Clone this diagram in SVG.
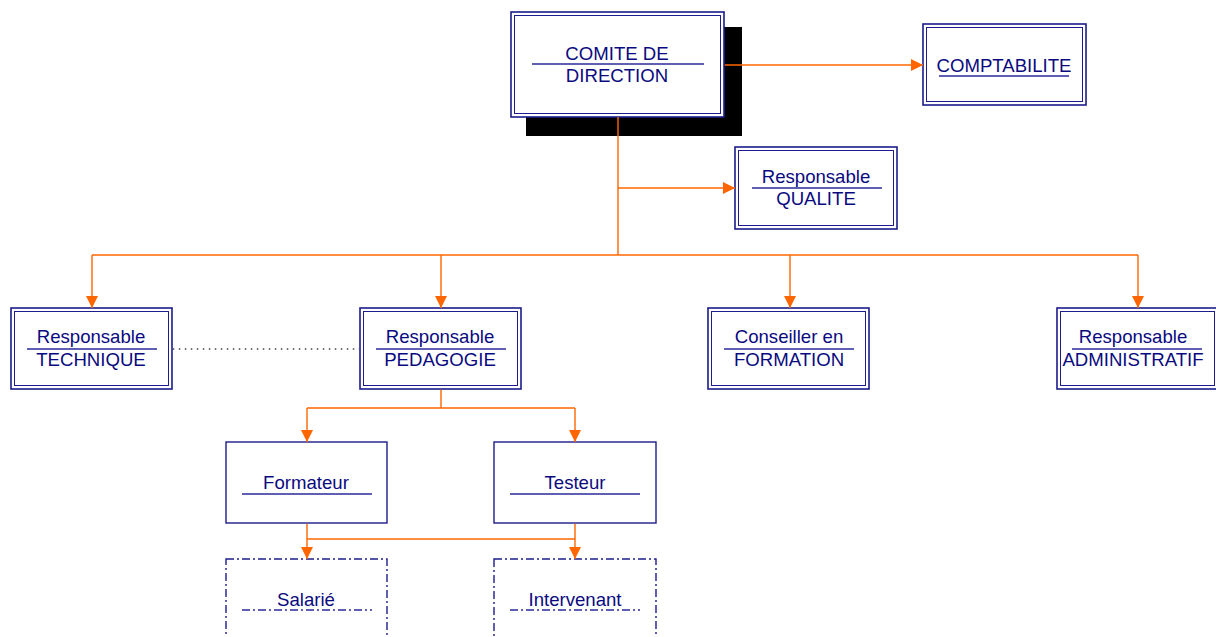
<svg xmlns="http://www.w3.org/2000/svg" width="1216" height="637" viewBox="0 0 1216 637">
<style>
.o{fill:#fff;stroke:#1c1c8c;stroke-width:1.6}
.i{fill:none;stroke:#1c1c8c;stroke-width:1}
.s{fill:#fff;stroke:#1c1c8c;stroke-width:1.4}
.d{fill:#fff;stroke:#1c1c8c;stroke-width:1.4;stroke-dasharray:8 3 2 3}
.sep{stroke:#2a2a9a;stroke-width:1.4}
.sepd{stroke:#2a2a9a;stroke-width:1.4;stroke-dasharray:8 3 2 3}
.t{font-family:"Liberation Sans",Arial,sans-serif;font-size:18.6px;fill:#0a0a80;text-anchor:middle}
.c{fill:none;stroke:#ff6600;stroke-width:1.4}
</style>
<defs>
<marker id="ah" markerUnits="userSpaceOnUse" markerWidth="12" markerHeight="12" refX="12" refY="6" orient="auto">
<path d="M0,0 L12,6 L0,12 Z" fill="#ff6600"/>
</marker>
</defs>
<g id="comite">
<rect x="526" y="27" width="216" height="109" fill="#000"/>
<rect class="o" x="511" y="12" width="213" height="105"/>
<rect class="i" x="514.5" y="15.5" width="206" height="98"/>
<line class="sep" x1="532" y1="64" x2="704" y2="64"/>
<text class="t" x="617" y="60">COMITE DE</text>
<text class="t" x="617" y="82">DIRECTION</text>
</g>
<g id="comptabilite">
<rect class="o" x="923" y="24" width="163" height="81"/>
<rect class="i" x="926.5" y="27.5" width="156" height="74"/>
<line class="sep" x1="939" y1="76" x2="1069" y2="76"/>
<text class="t" x="1004" y="72">COMPTABILITE</text>
</g>
<g id="qualite">
<rect class="o" x="735" y="147" width="162" height="82"/>
<rect class="i" x="738.5" y="150.5" width="155" height="75"/>
<line class="sep" x1="752" y1="188" x2="882" y2="188"/>
<text class="t" x="816" y="183">Responsable</text>
<text class="t" x="816" y="205">QUALITE</text>
</g>
<g id="technique">
<rect class="o" x="11" y="308" width="161" height="81"/>
<rect class="i" x="14.5" y="311.5" width="154" height="74"/>
<line class="sep" x1="27" y1="349" x2="157" y2="349"/>
<text class="t" x="91" y="343">Responsable</text>
<text class="t" x="91" y="366">TECHNIQUE</text>
</g>
<g id="pedagogie">
<rect class="o" x="360" y="308" width="161" height="81"/>
<rect class="i" x="363.5" y="311.5" width="154" height="74"/>
<line class="sep" x1="376" y1="349" x2="506" y2="349"/>
<text class="t" x="440" y="343">Responsable</text>
<text class="t" x="440" y="366">PEDAGOGIE</text>
</g>
<g id="formation">
<rect class="o" x="708" y="308" width="161" height="81"/>
<rect class="i" x="711.5" y="311.5" width="154" height="74"/>
<line class="sep" x1="724" y1="349" x2="854" y2="349"/>
<text class="t" x="789" y="343">Conseiller en</text>
<text class="t" x="789" y="366">FORMATION</text>
</g>
<g id="administratif">
<rect class="o" x="1057" y="308" width="161" height="81"/>
<rect class="i" x="1060.5" y="311.5" width="154" height="74"/>
<line class="sep" x1="1072" y1="349" x2="1202" y2="349"/>
<text class="t" x="1133" y="343">Responsable</text>
<text class="t" x="1133" y="366">ADMINISTRATIF</text>
</g>
<g id="formateur">
<rect class="s" x="226" y="442" width="161" height="81"/>
<line class="sep" x1="242" y1="494" x2="372" y2="494"/>
<text class="t" x="306" y="489">Formateur</text>
</g>
<g id="testeur">
<rect class="s" x="494" y="442" width="162" height="81"/>
<line class="sep" x1="510" y1="494" x2="640" y2="494"/>
<text class="t" x="575" y="489">Testeur</text>
</g>
<g id="salarie">
<rect class="d" x="226" y="559" width="161" height="90"/>
<line class="sepd" x1="242" y1="610" x2="372" y2="610"/>
<text class="t" x="306" y="606">Salarié</text>
</g>
<g id="intervenant">
<rect class="d" x="494" y="559" width="162" height="90"/>
<line class="sepd" x1="510" y1="610" x2="640" y2="610"/>
<text class="t" x="575" y="606">Intervenant</text>
</g>
<g id="connectors">
<path class="c" d="M618,117 V255"/>
<path class="c" d="M724.8,65 H923" marker-end="url(#ah)"/>
<path class="c" d="M618,188 H735" marker-end="url(#ah)"/>
<path class="c" d="M92,255 H1138"/>
<path class="c" d="M92,255 V308" marker-end="url(#ah)"/>
<path class="c" d="M441,255 V308" marker-end="url(#ah)"/>
<path class="c" d="M790,255 V308" marker-end="url(#ah)"/>
<path class="c" d="M1138,255 V308" marker-end="url(#ah)"/>
<path d="M172.8,349 H359.2" fill="none" stroke="#444" stroke-width="1.4" stroke-dasharray="1.5 4.5"/>
<path class="c" d="M441,389.8 V408 M307,408 H575"/>
<path class="c" d="M307,408 V442" marker-end="url(#ah)"/>
<path class="c" d="M575,408 V442" marker-end="url(#ah)"/>
<path class="c" d="M307,523.7 V559" marker-end="url(#ah)"/>
<path class="c" d="M575,523.7 V559" marker-end="url(#ah)"/>
<path class="c" d="M307,539 H575"/>
</g>
</svg>
